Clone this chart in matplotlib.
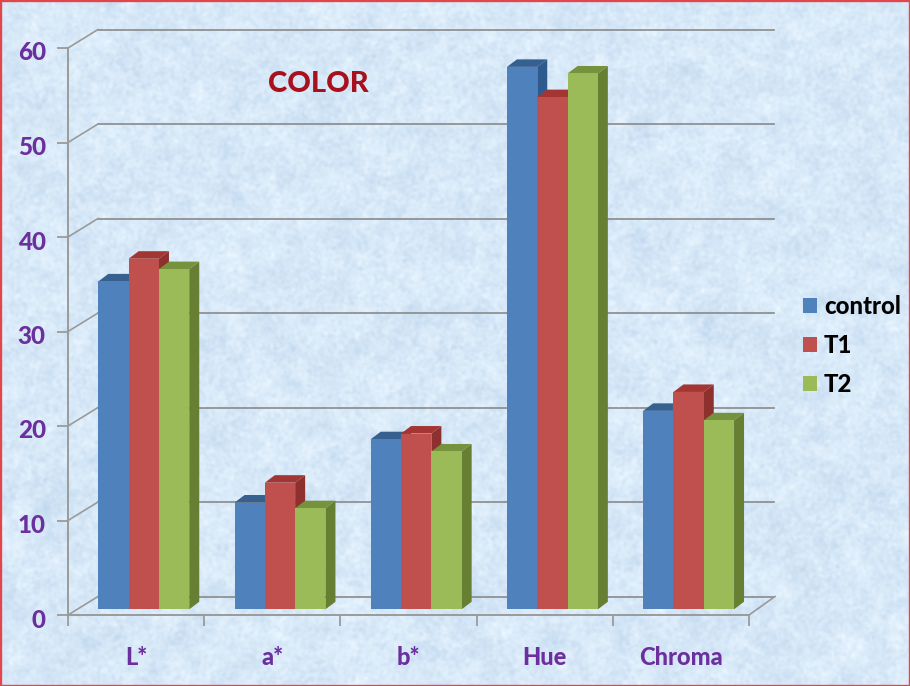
import numpy as np
import matplotlib
matplotlib.use("Agg")
import matplotlib.pyplot as plt
from matplotlib.transforms import Affine2D, ScaledTranslation
from matplotlib.patches import Rectangle

categories = ["L*", "a*", "b*", "Hue", "Chroma"]
control = [34.7, 11.3, 18.0, 57.4, 21.0]
t1 = [37.1, 13.4, 18.6, 54.2, 23.0]
t2 = [36.0, 10.7, 16.7, 56.7, 20.0]
series_names = ["control", "T1", "T2"]
yticks = [0, 10, 20, 30, 40, 50, 60]

W, H = 910, 686
plt.rcParams["font.family"] = ["Lato", "DejaVu Sans"]
plt.rcParams["font.weight"] = "bold"
fig = plt.figure(figsize=(W / 100, H / 100), dpi=100)
fig.patch.set_facecolor("#d8e9f8")

# decorative paper-like background texture (not data)
rng = np.random.default_rng(3)
noise = rng.normal(size=(H, W))
fx = np.fft.fftfreq(W)[None, :]
fy = np.fft.fftfreq(H)[:, None]
r = np.sqrt(fx ** 2 + fy ** 2)
fine = np.fft.ifft2(np.fft.fft2(noise) * np.exp(-(r / 0.16) ** 2)).real
coarse = np.fft.ifft2(np.fft.fft2(noise) * np.exp(-(r / 0.03) ** 2)).real
tex = fine / fine.std() * 0.7 + coarse / coarse.std() * 0.4
base = np.array([0.845, 0.912, 0.972])
amp = np.array([0.022, 0.016, 0.009])
img = np.clip(base[None, None, :] + tex[:, :, None] * amp[None, None, :], 0, 1)
fig.figimage(img, 0, 0, zorder=-5)
fig.add_artist(Rectangle((0, 0), 1, 1, transform=fig.transFigure, fill=False,
                         edgecolor="#e2454a", linewidth=2.4, zorder=10))

ax = fig.add_axes([68 / W, (H - 615) / H, (749 - 68) / W, 567 / H])
ax.patch.set_alpha(0)
ax.set_xlim(0, 5)
ax.set_ylim(0, 60)

axis_col = "#9a9a9a"
for s in ("top", "right"):
    ax.spines[s].set_visible(False)
for s in ("left", "bottom"):
    ax.spines[s].set_color(axis_col)
    ax.spines[s].set_linewidth(1.4)

px_x = 5 / (749 - 68)
px_y = 60 / 567
back = ax.transData + Affine2D().translate(30, 18.5)

# back-wall gridlines and wall/floor connectors
for v in yticks:
    ax.plot([0, 4.965], [v, v], transform=back, color="#8a8a8a", lw=1.2, zorder=1, clip_on=False)
    ax.plot([0, 30 * px_x], [v, v + 18.5 * px_y], color=axis_col, lw=1.2,
            zorder=1, clip_on=False)
ax.plot([5, 5 + 26 * px_x], [0, 18.5 * px_y], color=axis_col, lw=1.2, zorder=1, clip_on=False)

colors = [("#4f81bd", "#35608f", "#2f5a8e"),
          ("#c0504d", "#a33532", "#8e302e"),
          ("#9bbb59", "#76923c", "#667f33")]
series = [control, t1, t2]
bar_w = 30.3 * px_x
dx, dy = 10 * px_x, 7.5 * px_y
plane = ax.transData + Affine2D().translate(7.7, 5.7)

z = 3
for i in range(len(categories)):
    for j, (vals, (front, top, side)) in enumerate(zip(series, colors)):
        x0 = i + 0.5 + (j - 1.5) * bar_w
        x1 = x0 + bar_w
        v = vals[i]
        ax.fill([x1, x1 + dx, x1 + dx, x1], [0, dy, v + dy, v], color=side, lw=0,
                transform=plane, zorder=z, clip_on=False)
        ax.fill([x0, x1, x1 + dx, x0 + dx], [v, v, v + dy, v + dy], color=top, lw=0,
                transform=plane, zorder=z, clip_on=False)
        ax.bar(x0, v, width=bar_w, align="edge", color=front, lw=0, transform=plane,
               zorder=z + 0.5, clip_on=False, label=series_names[j] if i == 0 else None)
        z += 1

ax.set_yticks(yticks)
ax.set_xticks(np.arange(len(categories)) + 0.5)
ax.set_xticklabels(categories)
ax.set_xticks(np.arange(len(categories) + 1), minor=True)
ax.tick_params(axis="x", which="major", length=0, pad=22, labelsize=17, labelcolor="#6b2f9e")
ax.tick_params(axis="x", which="minor", length=8, width=1.3, color=axis_col)
ax.tick_params(axis="y", length=8, width=1.3, color=axis_col, pad=8, labelsize=17.5, labelcolor="#6b2f9e")
shift = ScaledTranslation(0, -3 / 100, fig.dpi_scale_trans)
for lab in ax.get_yticklabels():
    lab.set_transform(lab.get_transform() + shift)
    lab.set_fontweight(900)
for lab in ax.get_xticklabels():
    lab.set_fontweight(900)

fig.text(318 / W, 1 - 84 / H, "COLOR", color="#a8101c", fontsize=21, fontweight=900,
         ha="center", va="center")

leg = ax.legend(loc="center left", bbox_to_anchor=(798 / W, 1 - 345.5 / H), bbox_transform=fig.transFigure,
                frameon=False, fontsize=17.2, handlelength=0.58, handleheight=0.58,
                handletextpad=0.3, labelspacing=0.66, borderpad=0.2, borderaxespad=0)
for t in leg.get_texts():
    t.set_color("black")
    t.set_fontweight(900)
leg.set_zorder(50)

fig.savefig("out.png", dpi=100)
